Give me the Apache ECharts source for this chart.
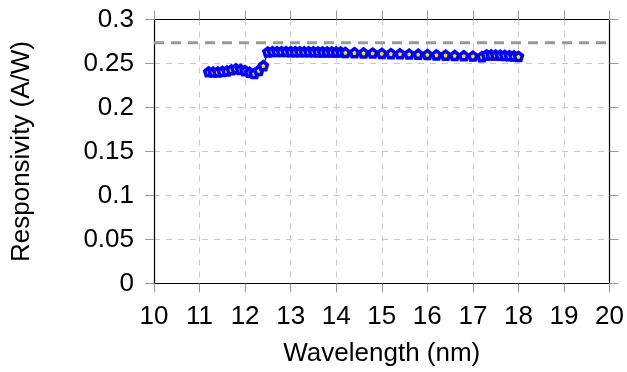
<!DOCTYPE html>
<html>
<head>
<meta charset="utf-8">
<script src="https://cdn.jsdelivr.net/npm/echarts@6/dist/echarts.min.js"></script>
<style>
  html, body { margin: 0; padding: 0; background: #fff; }
  #chart { width: 627px; height: 372px; }
</style>
</head>
<body>
<div id="chart"></div>
<script>
const wavelength = [
  11.2, 11.3, 11.4, 11.5, 11.6, 11.7, 11.8, 11.9, 12.0, 12.1,
  12.2, 12.3, 12.4, 12.5, 12.6, 12.7, 12.8, 12.9, 13.0, 13.1,
  13.2, 13.3, 13.4, 13.5, 13.6, 13.7, 13.8, 13.9, 14.0, 14.1,
  14.2, 14.4, 14.6, 14.8, 15.0, 15.2, 15.4, 15.6, 15.8, 16.0,
  16.2, 16.4, 16.6, 16.8, 17.0, 17.2, 17.3, 17.4, 17.5, 17.6,
  17.7, 17.8, 17.9, 18.0
];
const responsivity = [
  0.2405, 0.2403, 0.2403, 0.2410, 0.2415, 0.2428, 0.2440, 0.2432, 0.2418, 0.2400,
  0.2385, 0.2420, 0.2475, 0.2630, 0.2635, 0.2635, 0.2635, 0.2635, 0.2634, 0.2634,
  0.2634, 0.2633, 0.2633, 0.2633, 0.2632, 0.2632, 0.2631, 0.2631, 0.2630, 0.2630,
  0.2625, 0.2623, 0.2620, 0.2618, 0.2615, 0.2612, 0.2610, 0.2607, 0.2605, 0.2601,
  0.2598, 0.2595, 0.2591, 0.2588, 0.2584, 0.2578, 0.2598, 0.2597, 0.2596, 0.2594,
  0.2592, 0.2589, 0.2586, 0.2580
];
// dashed reference level
const refX = [10, 20.22];
const refY = [0.2735, 0.2735];

const font = '"Liberation Sans", Arial, sans-serif';
const pentagon = 'path://M0,-1 L0.951,-0.309 L0.588,0.809 L-0.588,0.809 L-0.951,-0.309 Z';

const tickStyle = { show: true, inside: false, length: 9, lineStyle: { color: '#999', width: 1 } };
const gridStyle = { show: true, lineStyle: { color: '#c8c8c8', type: [6, 6], width: 1 } };
const frame = { show: true, onZero: false, lineStyle: { color: '#000', width: 1.2 } };

const chart = echarts.init(document.getElementById('chart'));
chart.setOption({
  animation: false,
  grid: { left: 154, right: 17, top: 19.5, bottom: 88.5 },
  xAxis: [
    {
      type: 'value', min: 10, max: 20, interval: 1, position: 'bottom',
      name: 'Wavelength (nm)', nameLocation: 'middle', nameGap: 57,
      nameTextStyle: { fontFamily: font, fontSize: 26, color: '#000' },
      axisLine: frame, axisTick: tickStyle, splitLine: gridStyle,
      axisLabel: { fontFamily: font, fontSize: 26, color: '#000', margin: 20 }
    },
    {
      type: 'value', min: 10, max: 20, interval: 1, position: 'top',
      axisLine: frame, axisTick: tickStyle, splitLine: { show: false },
      axisLabel: { show: false }
    }
  ],
  yAxis: [
    {
      type: 'value', min: 0, max: 0.3, interval: 0.05, position: 'left',
      name: 'Responsivity (A/W)', nameLocation: 'middle', nameGap: 119,
      nameTextStyle: { fontFamily: font, fontSize: 26, color: '#000' },
      axisLine: frame, axisTick: tickStyle, splitLine: gridStyle,
      axisLabel: { fontFamily: font, fontSize: 26, color: '#000', margin: 20,
        formatter: v => String(+v.toFixed(2)) }
    },
    {
      type: 'value', min: 0, max: 0.3, interval: 0.05, position: 'right',
      axisLine: frame, axisTick: tickStyle, splitLine: { show: false },
      axisLabel: { show: false }
    }
  ],
  series: [
    {
      type: 'line',
      data: refX.map((x, i) => [x, refY[i]]),
      clip: false,
      symbol: 'none',
      lineStyle: { color: '#999', width: 3, type: [10, 7] },
      z: 1
    },
    {
      type: 'line',
      data: wavelength.map((x, i) => [x, responsivity[i]]),
      symbol: pentagon,
      symbolSize: 8,
      showSymbol: true,
      lineStyle: { color: '#000', width: 1.2 },
      itemStyle: { color: '#ffdd00', borderColor: '#0000ff', borderWidth: 3.5 },
      z: 3
    }
  ]
});
</script>
</body>
</html>
